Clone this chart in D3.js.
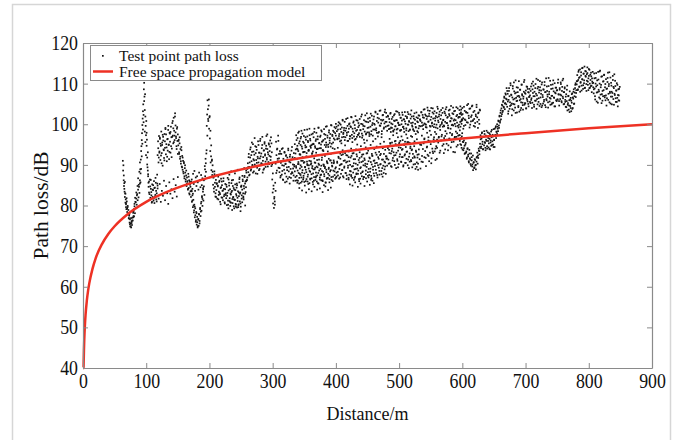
<!DOCTYPE html>
<html>
<head>
<meta charset="utf-8">
<script src="https://cdn.jsdelivr.net/npm/d3@7/dist/d3.min.js"></script>
<style>
  html, body { margin: 0; padding: 0; background: #fff; }
  svg { display: block; }
  text { font-family: "Liberation Serif", "Times New Roman", serif; fill: #111; }
</style>
</head>
<body>
<svg id="chart" width="685" height="440"></svg>
<script>
// ---- Axis ticks ----
const xTicks = [0, 100, 200, 300, 400, 500, 600, 700, 800, 900];
const yTicks = [40, 50, 60, 70, 80, 90, 100, 110, 120];

// ---- Free space propagation model (distance m, loss dB) ----
const modelDist = [0.9, 1, 1.5, 2, 3, 4, 6, 8, 10, 15, 20, 30, 40, 50, 70, 100, 150, 200, 300, 400, 500, 600, 700, 800, 900];
const modelLoss = [40.0, 40.9, 44.4, 47.0, 50.5, 53.0, 56.5, 59.0, 60.9, 64.4, 67.0, 70.5, 73.0, 74.9, 77.8, 80.9, 84.4, 86.9, 90.5, 93.0, 94.9, 96.5, 97.8, 99.0, 100.0];

// ---- Measured path loss, drive pass A: [start m, end m] per run, samples evenly spaced ----
const passASpans = [
  [63, 68], [68, 80], [80, 90], [90, 103], [103, 118], [118, 150], [150, 170], [170, 192],
  [192, 205], [205, 260], [260, 296], [296, 310], [310, 335], [335, 400], [400, 480],
  [480, 530], [530, 560], [560, 596], [596, 628], [628, 655], [655, 671], [671, 707],
  [707, 754], [754, 781], [781, 807], [807, 849]
];
const passALoss = [
  [91.0,88.6,89.9,86.2,84.8,85.5,83.4,82.1,83.0,80.7,81.5,79.6],
  [80.3,79.1,81.0,78.4,79.6,77.8,78.9,76.9,77.5,75.8,76.6,74.9,75.6,74.6,76.1,75.2,77.0,76.3,78.2,77.4],
  [78.6,77.3,79.8,78.1,80.9,79.4,81.7,80.2,82.8,81.3,83.9,82.0,84.6,83.1,85.4],
  [86.2,88.9,85.7,91.3,89.0,94.6,92.1,97.8,95.2,101.4,98.7,104.9,102.3,108.6,110.2,106.8,103.5,107.4,101.9,99.6,97.3,100.8,94.7,96.2,91.8,89.4,93.1,87.7],
  [87.2,84.6,85.9,82.8,86.4,81.9,84.1,83.3,80.7,85.2,82.1,83.8,81.2,86.0,80.6,84.4,82.6,85.6,81.5,83.0,87.6,84.9],
  [92.4,95.8,90.6,97.1,93.3,96.4,91.2,94.7,98.2,92.9,95.5,89.8,96.9,93.8,91.7,97.6,94.2,99.1,92.6,95.1,90.9,96.3,93.5,98.6,94.9,91.4,97.9,95.7,93.0,99.4,96.8,94.0,100.3,97.2,95.3,101.6,98.4,96.1,102.7,99.7,97.0,94.6,98.9,95.9,92.7],
  [97.5,94.8,96.2,92.7,95.3,91.5,93.9,90.3,94.4,89.6,92.2,88.8,91.0,87.9,90.4,86.7,89.2,88.1,85.9,87.4,84.8,86.9,85.5,83.9,87.8,84.3,86.2,82.7,85.1,83.5],
  [84.6,82.1,83.7,80.9,82.5,79.6,81.4,78.3,80.2,77.1,79.3,76.0,78.4,75.3,77.2,74.6,76.5,75.0,77.8,76.2,79.1,77.4,80.5,78.7,82.0,79.9,83.4,81.2,84.7,82.6],
  [86.4,89.7,87.2,91.5,88.3,92.8,99.6,102.4,105.9,103.7,100.8,104.6,98.9,101.7,96.5,93.4,90.6,92.1,88.7,91.0,87.5,89.9],
  [88.3,85.1,86.9,83.4,87.7,84.6,82.2,86.3,83.8,85.5,81.7,84.9,87.1,82.6,85.8,83.1,80.9,84.3,86.6,82.0,85.0,83.6,81.3,86.0,84.1,82.7,80.5,85.3,83.0,81.8,84.6,82.4,86.8,80.2,83.7,85.6,81.1,84.0,82.9,80.7,83.3,86.2,81.6,84.8,82.1,79.8,83.9,81.4,85.2,80.4,82.8,84.4,79.5,81.9,83.5,80.1,82.3,85.7,81.0,83.2,79.7,84.7,82.5,80.8,86.4,83.0,81.5,84.2,87.3,82.9,85.9,84.5,88.1,86.3,89.0],
  [86.9,90.4,88.2,92.7,89.5,87.6,91.8,94.3,88.9,90.9,93.2,89.8,95.1,91.4,88.4,92.5,90.1,94.6,87.9,91.2,93.7,89.3,92.0,95.8,90.6,88.7,93.0,91.6,96.4,89.9,92.8,90.3,94.9,88.1,91.9,93.5,89.1,95.6,92.3,90.8,94.0,97.1,91.3,93.9,89.6,92.6,95.3,90.2,93.4,96.0],
  [94.5,91.2,96.8,89.7,93.1,86.4,83.2,80.5,84.9,79.4,82.1,81.0,85.6,90.3,95.7,92.4,88.6,94.0,90.9,97.2,89.3,92.7],
  [91.6,88.2,93.4,86.9,90.5,92.7,87.6,89.9,94.1,86.3,91.0,88.8,93.0,85.7,90.2,92.2,87.1,89.4,91.8,86.6,93.6,88.4,90.8,85.4,92.5,89.0,87.8,91.3,94.4,88.0,90.1,86.1,92.9,89.6,91.7],
  [88.4,86.1,89.7,87.3,85.6,90.2,88.0,86.8,89.1,87.5,91.0,85.9,88.7,86.4,90.5,87.9,89.4,86.0,88.2,90.8,87.1,85.3,89.9,88.5,86.6,90.1,87.7,89.2,85.8,88.9,87.0,90.6,86.3,88.1,89.6,87.4,85.5,90.3,88.6,86.9,89.0,87.6,91.2,86.2,88.3,90.0,87.2,89.5,85.7,88.8,86.7,90.4,87.8,89.3,86.5,88.4,91.1,87.0,89.8,86.0,88.6,90.7,87.5,89.1,86.8],
  [89.4,87.1,90.8,88.3,92.0,86.6,89.9,91.5,87.8,90.2,88.7,92.6,86.9,89.3,91.1,88.0,90.6,87.4,92.3,89.8,86.4,90.9,88.5,91.8,87.2,89.6,92.8,88.1,90.4,86.8,91.4,89.0,87.7,92.1,90.0,88.6,86.5,91.7,89.2,87.9,90.7,92.5,88.4,89.9,87.0,91.2,90.3,86.7,89.5,92.9,88.2,90.9,87.5,91.6,89.1,86.3,90.1,92.2,88.8,91.0,87.3,89.7,93.0,88.0,90.5,86.9,91.9,89.3,87.6,92.4,90.2,88.5,91.3,87.1,89.8,92.7,88.9,90.6,87.8,91.5],
  [92.1,89.8,94.5,91.3,93.7,90.4,95.2,92.8,89.5,94.0,91.7,93.1,90.9,95.8,92.4,89.2,94.8,91.0,93.5,90.2,95.5,92.6,94.2,90.7,91.9,93.9,89.6,95.0,92.3,90.5,94.4,91.5,93.3,89.9,95.6,92.0,90.8,94.1,91.2,93.6,89.4,92.7,90.1,94.6,91.8,89.0,93.2,90.6,92.5,88.8],
  [90.3,93.8,91.4,89.1,94.9,92.2,90.7,95.3,91.9,93.4,89.7,94.3,92.5,96.0,90.9,93.0,95.1,91.6,94.0,92.9,95.7,93.3,91.2,94.6,96.2],
  [94.2,96.7,93.5,97.4,95.1,93.8,96.2,94.8,97.9,95.6,93.2,96.9,94.5,97.2,95.9],
  [97.3,95.1,96.6,94.2,97.8,95.7,93.6,96.0,94.7,92.9,95.4,93.3,91.8,94.1,92.5,90.9,93.7,91.6,90.2,92.8,91.1,89.6,92.3,90.5,89.2,91.4,89.9,88.9,90.8,92.0,90.3,91.7,93.5,92.6,94.4],
  [95.2,97.3,94.1,96.5,98.0,95.7,93.9,96.9,94.8,97.6,95.4,93.6,96.2,98.4,94.6,97.0,95.9,94.3,97.8,96.4,93.8,95.5,98.2,96.8,94.9,97.4,95.0,98.8,96.1,94.4,97.1,99.2,96.6,98.1,100.0],
  [97.6,99.4,98.3,100.7,99.1,101.9,100.4,102.8,101.2,103.9,102.5,104.6,103.3,105.8,104.1,106.5,103.7,105.2,107.3,104.9,106.1,108.2],
  [104.3,107.5,102.6,106.0,108.9,103.8,105.4,110.1,104.7,107.2,102.2,106.6,109.4,105.0,103.4,108.1,106.3,104.1,110.8,107.8,105.7,102.9,106.9,109.0,104.5,107.0,103.1,105.9,108.5,106.2,104.0,109.7,107.4,105.3,103.6,106.8,110.4,104.8,107.7,105.1,108.3,103.9,106.4,109.2,105.6,107.9,104.4,106.7,108.7,105.5],
  [107.1,105.2,109.3,106.4,104.0,108.6,110.5,106.9,104.8,108.0,105.8,109.9,107.5,103.8,106.2,108.8,110.9,105.5,107.8,104.5,109.1,106.6,108.3,104.2,110.3,107.2,105.1,108.5,106.0,109.6,104.7,107.9,111.3,105.9,108.2,106.8,104.1,109.4,107.4,105.6,110.7,106.3,108.7,104.9,107.0,109.8,105.3,108.1,106.5,110.1,104.4,107.6,109.0,105.7,108.4,106.1,111.0,107.3,104.6,108.9],
  [108.5,106.2,110.3,107.1,105.4,109.2,106.8,111.2,107.9,105.0,108.8,106.0,104.3,107.4,105.7,109.5,104.8,106.9,103.6,105.9,108.1,104.5,106.5,103.2,105.3,107.6,104.0,106.3,108.6,105.1,107.8,109.7,106.7,108.4,110.6],
  [109.8,112.1,108.4,110.9,113.3,109.2,111.6,108.0,110.4,112.8,109.5,113.8,111.0,108.7,112.4,110.1,114.2,109.0,111.9,113.0,108.2,110.7,112.6,109.7,111.3,113.6,108.9,110.0,112.2,109.4,111.8,107.9,110.5,112.9,109.1],
  [110.2,107.6,112.5,108.8,106.1,111.4,109.3,105.6,110.8,107.9,112.9,108.5,106.6,110.0,113.2,107.3,109.7,105.2,111.8,108.2,106.9,110.6,112.1,107.0,109.1,105.9,111.1,108.7,106.4,110.4,112.7,107.5,109.9,105.4,108.0,111.5,106.8,109.5,104.9,107.7,110.9,106.2,108.9,112.3,107.2,109.4,105.5,108.3,110.1,106.5,104.4,108.6,107.1,105.8,109.2]
];

// ---- Drive pass B ----
const passBSpans = [[118, 150], [335, 400], [400, 480], [480, 533], [533, 600], [596, 628]];
const passBLoss = [
  [84.2,81.7,85.3,80.9,83.6,82.4,86.1,81.3,84.8,83.0,80.4,85.7,82.9,84.0,81.8,86.5,83.4,85.0,82.2,87.0],
  [95.1,92.8,97.3,94.0,96.6,93.4,98.2,95.8,92.5,96.9,94.5,97.7,93.1,95.4,98.6,94.8,96.2,92.9,97.0,95.6,93.7,98.9,96.4,94.2,97.5,95.0,93.3,96.8,98.1,94.6,95.9,97.9,93.9,96.3,99.2,95.3,94.1,97.2,98.5,95.7,93.6,96.1,98.8,94.9,97.4,95.5,99.5,96.7,94.4,98.0,96.0,97.6,99.8,95.2,97.1,98.4,96.5,99.3,97.8,100.1],
  [97.2,99.4,96.3,98.7,100.5,97.6,95.8,99.9,98.1,96.8,100.9,97.9,99.1,96.1,98.4,101.3,97.3,99.6,95.9,98.9,100.2,97.0,99.3,101.7,96.6,98.2,100.7,97.8,99.0,96.4,101.0,98.6,97.4,100.3,99.7,96.9,98.5,101.9,97.7,100.0,98.8,96.2,99.5,102.2,97.5,100.6,98.0,101.4,99.2,97.1,100.8,102.6,98.3,99.8,97.2,101.2,100.1,98.7,102.9,99.0,97.9,101.6,100.4,98.1,103.3,99.6,101.1,97.6,100.9,102.3,98.9,100.2,103.6,99.4,101.8],
  [100.6,98.4,102.1,99.7,101.3,98.9,102.8,100.2,99.1,101.8,98.2,100.9,102.5,99.5,101.0,98.7,103.1,100.4,99.8,102.3,98.5,101.6,100.0,102.9,99.3,101.2,98.1,100.7,102.0,99.0,101.5,103.0,99.9,100.8,98.6,102.4,100.3,101.9,99.4,98.8,101.4,102.7,100.1,99.2,101.7,98.3,100.5,102.2,99.6,101.1],
  [101.2,99.5,103.0,100.4,102.3,99.8,101.6,103.7,100.0,102.1,99.2,101.9,103.4,100.7,102.6,99.6,101.1,104.0,100.2,102.9,101.4,99.3,103.2,100.9,102.0,99.9,101.7,103.8,100.5,102.4,99.4,101.3,103.5,100.1,102.8,101.0,99.7,103.1,100.6,102.2,104.2,100.3,101.8,99.0,102.5,103.6,100.8,101.5,99.8,102.7,104.1,100.9,101.2,103.3,99.5,102.0,100.4,103.9,101.6,99.9,102.6,104.4,100.7,102.3,101.1],
  [101.8,99.4,103.6,100.9,102.5,98.9,104.3,101.2,99.8,103.0,100.5,102.8,105.0,101.5,99.2,103.9,100.7,102.2,104.6,101.0,99.6,103.3,100.3,102.0,104.8,101.7,99.1,102.9,100.1,103.4]
];

// ---- Drive pass C ----
const passCSpans = [
  [64.5, 79.5], [80.5, 102.5], [103.5, 117.5], [119, 149], [151, 169], [171, 191], [193, 204],
  [206, 259], [261, 295], [297, 309], [311, 334], [336, 399], [336.5, 399.5], [401, 479],
  [401.5, 479.5], [481, 529], [481.5, 532], [534, 599], [531, 595], [597, 627], [597.5, 627.5],
  [629, 654], [656, 670], [672, 706], [708, 753], [755, 780], [782, 806], [808, 848]
];
const passCLoss = [
  [87.4,84.1,85.8,82.9,80.6,81.8,79.2,79.9,78.0,76.8,77.9,75.4,74.8,76.9,75.7,76.3,78.6,77.1],
  [79.1,80.4,81.9,80.8,83.2,82.5,84.8,86.7,85.1,88.3,90.6,87.9,93.4,96.1,99.8,103.2,100.5,105.7,98.2,95.6,92.4,97.9,90.1,88.6],
  [85.6,83.2,81.4,84.7,86.3,82.5,80.9,83.9,85.0,81.7,84.3,82.2,86.8,83.6,81.0,85.4],
  [94.1,91.8,93.0,96.7,95.2,92.3,90.4,94.9,97.4,96.0,93.6,91.1,95.8,98.8,97.5,94.3,92.0,96.4,99.6,95.0,93.2,97.7,98.1,94.6,91.9,96.9,100.8,99.0,95.6,97.2,101.9,98.0,96.6,93.9,99.3],
  [95.9,93.1,96.8,92.0,90.9,93.6,89.4,91.8,88.3,90.7,87.2,89.9,86.4,88.6,85.3,86.0,84.1,87.1,83.0,85.8],
  [85.9,83.5,81.2,82.9,80.0,78.8,79.7,77.6,76.4,78.1,75.9,74.9,76.7,77.9,75.6,79.4,78.5,80.9,82.3,81.6,84.0,86.2],
  [88.9,90.4,93.6,97.2,101.3,106.1,102.0,98.4,94.8,91.3],
  [86.9,84.2,88.4,85.6,83.0,82.1,85.3,87.5,84.7,81.5,83.4,86.1,82.8,80.3,84.5,85.9,81.9,83.7,86.7,82.3,80.8,84.0,82.6,85.1,80.1,83.1,81.2,86.4,84.9,81.8,79.9,82.7,85.5,83.6,80.6,82.0,84.3,79.3,81.4,83.8,80.2,82.4,85.0,81.1,79.6,83.2,86.5,82.9,80.5,84.6,81.7,83.9,86.0,82.2,84.8,87.0,85.4,83.3,88.6,86.2],
  [89.4,91.9,87.4,90.6,93.8,88.6,92.4,95.5,90.0,88.1,93.3,91.1,96.6,89.7,92.9,94.4,90.5,87.8,91.6,94.9,93.0,89.0,95.9,92.1,90.4,94.1,96.9,91.0,88.8,93.6,95.2,92.6,89.5,94.7,91.7,97.5,93.1,90.7,95.0,92.2],
  [92.0,95.3,90.1,87.9,84.1,81.7,80.2,83.6,88.0,93.8,91.5,95.9],
  [89.2,92.8,87.3,90.9,93.9,88.5,86.4,91.5,89.8,93.2,87.9,90.3,92.4,85.9,88.7,91.2,94.0,89.5,87.0,92.0,90.6,86.8,93.5,88.2,91.9,89.1,87.4,90.0],
  [87.0,89.3,86.2,88.6,90.7,85.4,87.8,89.9,86.9,88.1,91.0,87.3,85.8,89.5,88.8,86.5,90.2,87.6,89.1,85.5,88.3,90.9,86.7,89.7,87.9,86.1,88.9,90.5,87.2,85.9,89.4,88.0,91.3,86.4,87.5,89.8,88.5,86.0,90.1,87.7,89.2,85.6,88.2,90.6,86.8,89.0,87.4,91.1,88.7,86.3,89.6,87.1,90.4,88.4,86.6],
  [93.8,96.1,94.7,97.9,95.3,92.6,96.5,98.4,94.0,95.7,97.1,93.2,96.8,94.4,98.7,95.9,93.5,97.3,96.0,94.8,92.7,97.7,95.1,98.9,94.2,96.3,93.9,97.0,99.1,95.4,96.9,94.1,98.2,95.8,93.4,97.6,96.4,99.4,94.9,97.2,95.0,98.5,96.6,94.5,99.7,97.4,95.5,98.1,96.2,99.0],
  [88.1,90.5,87.4,91.7,89.0,86.9,90.1,92.4,88.7,87.2,91.0,89.6,92.9,88.0,86.5,90.8,89.3,91.9,87.6,90.0,88.4,92.2,86.8,89.7,91.4,88.9,87.1,90.3,92.6,89.1,87.8,91.2,90.6,86.6,89.4,92.0,88.2,90.9,87.0,91.6,89.8,88.6,92.8,90.2,87.3,89.0,91.8,88.3,90.7,86.7,92.3,89.5,87.9,91.1,90.4,88.8,92.5,87.5,89.9,91.5,88.5,90.1,92.7,87.7,89.2,91.3,88.0,90.8,89.6,92.1],
  [98.3,96.5,99.7,97.1,100.2,98.8,96.0,99.2,101.1,97.6,98.5,100.6,96.8,99.0,97.9,101.5,98.1,100.0,96.4,99.5,101.8,97.4,98.9,100.4,97.0,99.8,102.0,98.4,96.9,100.9,99.3,97.8,101.3,98.6,100.1,102.4,97.2,99.6,101.0,98.2,100.7,97.7,102.7,99.1,100.5,98.0,101.6,99.4,97.5,102.1,100.3,98.7,101.9,99.9,103.1,98.5,100.8,102.5,97.9,101.4,99.7,103.4,100.2,98.3,102.2,101.1,99.2,103.0,100.6,102.8],
  [91.6,94.1,90.3,92.9,95.4,89.7,93.4,91.1,94.7,92.3,90.0,95.1,93.0,91.4,89.4,94.3,92.0,95.9,90.8,93.7,91.9,89.9,94.9,92.6,90.5,93.2,95.6,91.3,89.2,92.8,94.5,90.9,93.8,91.7,95.3,92.1,90.2,93.5,89.5,91.8],
  [99.6,101.9,98.8,100.5,102.6,99.2,101.3,100.0,98.4,102.2,100.8,99.5,103.2,101.0,98.9,100.3,102.8,99.8,101.6,98.6,100.9,102.3,99.4,101.2,103.0,100.1,98.5,101.8,99.9,102.5,100.6,98.7,101.4,103.4,99.7,100.4,102.0,98.3,101.1,99.3,102.9,100.7,101.5,99.0,102.1],
  [100.8,102.9,99.6,101.7,103.6,100.2,102.4,99.9,101.3,104.1,100.6,102.0,103.3,99.4,101.8,100.4,103.9,102.6,100.0,101.5,99.2,102.8,104.3,100.9,101.9,103.1,99.8,102.2,100.5,104.0,101.1,99.5,102.7,103.7,100.3,101.6,99.7,103.4,102.1,100.7,104.5,101.4,99.9,102.5,103.2,100.1,101.0,104.2,102.3,99.6,101.8,103.5,100.6,102.9,101.2],
  [92.6,95.0,90.8,93.9,96.3,91.7,94.5,92.2,95.8,90.4,93.3,96.8,94.0,91.5,95.5,93.0,96.0,94.7,92.9,97.1,95.2,93.6,96.5,94.3,97.6,95.7,93.1,96.9,94.9,97.3],
  [96.4,94.9,97.0,93.8,95.6,94.1,92.7,95.0,93.0,91.5,93.9,92.1,90.6,92.8,91.3,89.8,91.9,90.1,88.7,90.7,89.4,91.2,90.0,91.8,93.0,92.3,94.0,93.4],
  [102.6,100.1,104.0,101.5,99.6,103.3,101.0,102.9,104.7,100.4,102.1,103.8,99.9,101.8,104.4,100.8,103.0,101.3,99.4,102.4,104.2,100.6,102.7,101.1,103.6],
  [96.3,94.5,97.8,95.1,93.8,96.9,98.3,95.6,94.2,97.2,95.9,94.0,98.0,96.6,95.3,93.9,97.5,96.0,94.7,98.6,95.8,97.0,94.4,96.2,98.9,97.4,99.5,98.2],
  [98.9,100.9,99.7,102.1,100.8,103.4,102.0,104.8,103.0,105.5,104.3,106.8,105.1,107.6,106.3,108.9],
  [105.6,103.2,108.2,106.9,104.5,109.6,107.3,105.1,103.7,108.8,106.1,110.3,104.9,107.6,102.8,106.5,109.1,105.8,107.9,104.2,110.6,106.7,108.5,103.5,105.4,109.8,107.1,104.7,106.3,108.0,110.9,105.2,107.5,103.9,109.3,106.0,108.7,105.0,107.8,106.8],
  [108.2,106.0,110.0,105.3,107.7,109.5,104.3,106.9,108.9,105.8,111.2,107.1,104.9,109.2,106.4,108.4,110.6,105.0,107.5,109.8,104.6,106.7,108.6,105.6,110.4,107.9,104.2,106.2,109.3,107.3,105.4,111.4,108.0,106.5,104.8,109.7,107.0,105.2,108.8,110.8,106.6,104.4,107.8,109.0,105.9,108.3,106.1,110.2,107.4,105.7],
  [107.3,109.9,105.7,108.2,110.8,106.4,104.9,107.9,109.1,105.5,106.8,104.2,108.5,103.4,105.2,107.0,104.6,103.0,106.1,104.0,105.8,107.4,103.8,106.6,108.0,105.0,106.9,108.9,110.1,107.7],
  [110.6,108.6,112.9,111.4,109.3,113.5,110.2,112.0,108.3,111.1,113.9,109.6,112.5,110.8,108.9,113.1,111.7,109.9,112.3,114.0,110.5,108.4,111.9,113.4,109.0,110.9,112.7,109.5,111.3,110.1],
  [108.6,111.3,106.9,110.0,112.6,107.8,109.6,105.3,111.0,108.1,113.0,106.3,109.1,111.7,107.4,105.8,110.5,108.4,112.2,106.6,109.9,107.1,104.6,108.8,111.4,106.0,109.4,112.8,107.7,105.1,110.2,108.0,106.8,111.9,109.2,104.8,107.5,110.7,106.4,108.3,105.5,109.7,107.2,105.9,108.7]
];

// ---- Drive pass D (scattered repeat readings) ----
const passDSpans = [[338, 398], [340, 392], [403, 478], [420, 460], [485, 530], [536, 596], [172, 190], [230, 258]];
const passDLoss = [
  [91.4,93.8,90.2,92.6,94.9,89.5,91.9,93.2,90.7,94.3,92.1,89.9,93.5,91.0,94.6,90.4,92.9,95.2,91.6,89.3,93.0,91.2,94.0,90.0,92.4,95.0,91.8,93.6,89.7,92.2,94.4,90.9,93.3,91.5,95.4,92.7,90.5,94.1,91.1,93.9],
  [86.1,84.3,85.6,83.7,86.8,84.9,83.2,85.9,84.0,86.4,83.5,85.2,84.6,86.9,83.9,85.4,84.2,86.2,83.3,85.0,84.7,86.6,83.8,85.7,84.4],
  [94.2,96.5,92.8,95.3,93.6,96.9,94.8,92.4,95.9,93.3,97.1,94.0,95.6,92.9,96.2,93.8,95.0,97.4,93.1,94.6,96.7,92.6,95.4,94.3,96.0,93.5,97.6,94.9,92.7,95.8,93.9,96.4,94.5,97.0,93.2,95.2,96.8,94.1,95.7,93.7],
  [86.8,85.2,87.5,84.9,86.3,85.7,87.9,84.6,86.0,85.4,87.2,86.5,84.8,87.7,85.9,86.9,85.1,87.3,86.1,85.5],
  [96.4,98.1,95.5,97.3,98.7,95.9,97.8,96.8,95.2,98.4,97.0,96.1,98.9,95.7,97.5,96.6,98.3,95.4,97.1,96.9,98.6,95.8,97.6,96.3,98.0],
  [97.2,98.8,96.5,99.3,97.9,96.8,98.4,97.4,99.6,96.3,98.1,97.6,99.0,96.9,98.6,97.0,99.4,96.6,98.3,97.7,99.1,96.4,98.9,97.3,99.7,96.7,98.2,97.8,99.2,98.5],
  [86.4,84.1,87.8,85.3,88.5,83.6,86.9,84.8,87.2,85.7,83.9,88.1,86.2,84.5,87.5,85.0,86.7,84.3],
  [79.3,87.6,80.8,88.4,78.9,86.3,81.5,87.9,79.7,85.4,88.8,80.3,86.9,78.6,84.9,87.3,81.9,89.2,80.0,86.0]
];

const legendLabels = ["Test point path loss", "Free space propagation model"];
const xTitle = "Distance/m";
const yTitle = "Path loss/dB";

// ---- Layout ----
const plot = { left: 83, right: 652, top: 43, bottom: 368 };
const axisColor = "#8a8a8a";
const lineColor = "#ee3124";
const tickFont = 20;
const tickSqueeze = 0.89;

const svg = d3.select("#chart");

// outer frame around the figure
svg.append("rect")
  .attr("x", 12.5).attr("y", 4.5)
  .attr("width", 658).attr("height", 450)
  .attr("fill", "none").attr("stroke", "#d6d6d6").attr("stroke-width", 1.5);

const x = d3.scaleLinear().domain([0, 900]).range([plot.left, plot.right]);
const y = d3.scaleLinear().domain([40, 120]).range([plot.bottom, plot.top]);

// expand each run into (distance, loss) samples
function samples(spans, losses) {
  const out = [];
  spans.forEach((s, i) => {
    const vals = losses[i];
    const n = vals.length;
    vals.forEach((v, j) => {
      const d = n > 1 ? s[0] + (s[1] - s[0]) * j / (n - 1) : s[0];
      out.push([d, v]);
    });
  });
  return out;
}
const measured = samples(passASpans, passALoss)
  .concat(samples(passBSpans, passBLoss))
  .concat(samples(passCSpans, passCLoss))
  .concat(samples(passDSpans, passDLoss));

// measured points
svg.append("g")
  .selectAll("rect")
  .data(measured)
  .join("rect")
  .attr("x", d => x(d[0]) - 0.85)
  .attr("y", d => y(d[1]) - 0.85)
  .attr("width", 1.7)
  .attr("height", 1.7)
  .attr("fill", "#141414");

// free space model curve
const model = modelDist.map((d, i) => [d, modelLoss[i]]);
svg.append("path")
  .datum([[0, 40]].concat(model))
  .attr("fill", "none")
  .attr("stroke", lineColor)
  .attr("stroke-width", 2.5)
  .attr("d", d3.line().x(d => x(d[0])).y(d => y(d[1])).curve(d3.curveMonotoneX));

// axes: inward ticks on all four sides
function styleAxis(g) {
  g.select(".domain").attr("stroke", axisColor).attr("stroke-width", 1.2);
  g.selectAll(".tick line").attr("stroke", axisColor).attr("stroke-width", 1);
}

const gx = svg.append("g")
  .attr("transform", `translate(0,${plot.bottom})`)
  .call(d3.axisBottom(x).tickValues(xTicks).tickSizeInner(-5).tickSizeOuter(0).tickPadding(6))
  .call(styleAxis);
gx.selectAll(".tick text")
  .attr("font-family", "Liberation Serif, serif")
  .attr("font-size", tickFont)
  .attr("fill", "#111")
  .attr("transform", `scale(${tickSqueeze},1)`);

const gy = svg.append("g")
  .attr("transform", `translate(${plot.left},0)`)
  .call(d3.axisLeft(y).tickValues(yTicks).tickSizeInner(-5).tickSizeOuter(0).tickPadding(0))
  .call(styleAxis);
gy.selectAll(".tick text")
  .attr("x", -5 / tickSqueeze)
  .attr("font-family", "Liberation Serif, serif")
  .attr("font-size", tickFont)
  .attr("fill", "#111")
  .attr("transform", `scale(${tickSqueeze},1)`);

svg.append("g")
  .attr("transform", `translate(0,${plot.top})`)
  .call(d3.axisTop(x).tickValues(xTicks).tickSizeInner(-5).tickSizeOuter(0).tickFormat(""))
  .call(styleAxis);

svg.append("g")
  .attr("transform", `translate(${plot.right},0)`)
  .call(d3.axisRight(y).tickValues(yTicks).tickSizeInner(-5).tickSizeOuter(0).tickFormat(""))
  .call(styleAxis);

// axis titles
svg.append("text")
  .attr("x", (plot.left + plot.right) / 2)
  .attr("y", 420)
  .attr("text-anchor", "middle")
  .attr("font-size", 18)
  .text(xTitle);

svg.append("text")
  .attr("transform", `translate(47.5,${(plot.top + plot.bottom) / 2}) rotate(-90)`)
  .attr("text-anchor", "middle")
  .attr("font-size", 21.5)
  .text(yTitle);

// legend
const lg = svg.append("g");
lg.append("rect")
  .attr("x", 90.5).attr("y", 45.5)
  .attr("width", 231).attr("height", 35)
  .attr("fill", "#fff").attr("stroke", axisColor).attr("stroke-width", 1);
lg.append("rect")
  .attr("x", 102).attr("y", 55).attr("width", 1.7).attr("height", 1.7)
  .attr("fill", "#141414");
lg.append("line")
  .attr("x1", 93).attr("x2", 113).attr("y1", 71.5).attr("y2", 71.5)
  .attr("stroke", lineColor).attr("stroke-width", 2.5);
lg.selectAll("text.leg")
  .data(legendLabels)
  .join("text")
  .attr("class", "leg")
  .attr("x", 119)
  .attr("y", (d, i) => 61 + i * 15.5)
  .attr("font-size", 15.5)
  .text(d => d);
</script>
</body>
</html>
